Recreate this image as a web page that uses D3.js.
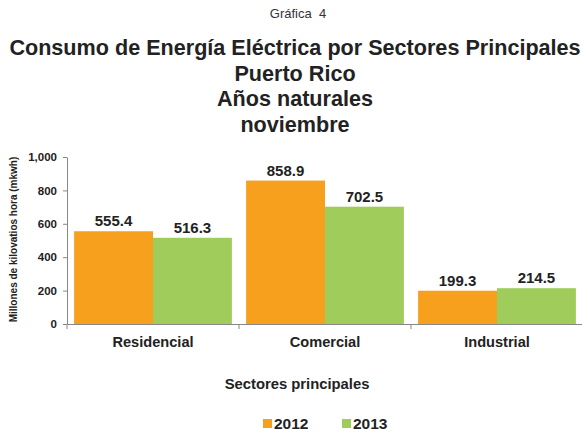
<!DOCTYPE html>
<html>
<head>
<meta charset="utf-8">
<script src="https://cdn.jsdelivr.net/npm/d3@7"></script>
<style>
  body { margin: 0; background: #fff; }
  svg { font-family: "Liberation Sans", Arial, sans-serif; }
</style>
</head>
<body>
<div id="chart"></div>
<script>
var categories = ["Residencial", "Comercial", "Industrial"];
var years = ["2012", "2013"];
var values2012 = [555.4, 858.9, 199.3];
var values2013 = [516.3, 702.5, 214.5];
var yTicks = [0, 200, 400, 600, 800, 1000];
var colors = ["#F6A01D", "#A0CC5C"];

var width = 582, height = 434;
var margin = {top: 157, right: -1, bottom: 110, left: 67};
var font = "Liberation Sans, Arial, sans-serif";

var svg = d3.select("#chart").append("svg")
  .attr("width", width)
  .attr("height", height);

// titles
svg.append("text")
  .attr("x", 298).attr("y", 18)
  .attr("text-anchor", "middle")
  .attr("font-size", 13).attr("fill", "#333")
  .style("white-space", "pre")
  .text("Gráfica  4");

var titleLines = ["Consumo de Energía Eléctrica por Sectores Principales", "Puerto Rico", "Años naturales", "noviembre"];
svg.append("g").selectAll("text")
  .data(titleLines)
  .enter().append("text")
  .attr("x", 295)
  .attr("y", function (d, i) { return 55 + i * 25.7; })
  .attr("text-anchor", "middle")
  .attr("font-size", 21.6).attr("font-weight", "bold").attr("fill", "#222")
  .text(function (d) { return d; });

var x0 = d3.scaleBand()
  .domain(categories)
  .range([margin.left, width - margin.right])
  .paddingInner(0)
  .paddingOuter(0);

var x1 = d3.scaleBand()
  .domain(years)
  .range([0, x0.bandwidth()])
  .paddingInner(0)
  .paddingOuter(0.09);

var y = d3.scaleLinear()
  .domain([0, 1000])
  .range([height - margin.bottom, margin.top]);

// bars
var data = categories.map(function (c, i) {
  return {cat: c, vals: [values2012[i], values2013[i]]};
});

var groups = svg.append("g").selectAll("g")
  .data(data)
  .enter().append("g")
  .attr("transform", function (d) { return "translate(" + x0(d.cat) + ",0)"; });

groups.selectAll("rect")
  .data(function (d) { return d.vals.map(function (v, j) { return {year: years[j], v: v, j: j}; }); })
  .enter().append("rect")
  .attr("x", function (d) { return x1(d.year); })
  .attr("width", x1.bandwidth())
  .attr("y", function (d) { return y(d.v); })
  .attr("height", function (d) { return y(0) - y(d.v); })
  .attr("fill", function (d) { return colors[d.j]; });

groups.selectAll("text")
  .data(function (d) { return d.vals.map(function (v, j) { return {year: years[j], v: v}; }); })
  .enter().append("text")
  .attr("x", function (d) { return x1(d.year) + x1.bandwidth() / 2; })
  .attr("y", function (d) { return y(d.v) - 5; })
  .attr("text-anchor", "middle")
  .attr("font-size", 15).attr("font-weight", "bold").attr("fill", "#222")
  .text(function (d) { return d3.format(".1f")(d.v); });

// y axis
var yAxis = svg.append("g")
  .attr("transform", "translate(" + margin.left + ",0)")
  .call(d3.axisLeft(y).tickValues(yTicks).tickFormat(d3.format(",")).tickSize(4).tickSizeOuter(0));
yAxis.select(".domain").attr("stroke", "#888");
yAxis.selectAll(".tick line").attr("stroke", "#888");
yAxis.selectAll(".tick text")
  .attr("font-size", 11.5).attr("font-weight", "bold").attr("fill", "#222")
  .attr("x", -10)
  .style("font-family", font);

// x axis
var xAxis = svg.append("g")
  .attr("transform", "translate(0," + y(0) + ")")
  .call(d3.axisBottom(x0).tickSize(0).tickSizeOuter(0));
xAxis.select(".domain").attr("stroke", "#888");
xAxis.selectAll(".tick text")
  .attr("font-size", 14.6).attr("font-weight", "bold").attr("fill", "#222")
  .attr("y", 0).attr("dy", 0)
  .attr("transform", "translate(0,23)")
  .style("font-family", font);

// category separators
var seps = categories.map(function (c) { return x0(c); }).concat([x0.range()[1]]);
svg.append("g").selectAll("line")
  .data(seps)
  .enter().append("line")
  .attr("x1", function (d) { return d; }).attr("x2", function (d) { return d; })
  .attr("y1", y(0)).attr("y2", y(0) + 5)
  .attr("stroke", "#888");

// axis titles
svg.append("text")
  .attr("transform", "translate(17," + ((y(0) + y(1000)) / 2 - 1) + ") rotate(-90)")
  .attr("text-anchor", "middle")
  .attr("font-size", 10).attr("font-weight", "bold").attr("fill", "#222")
  .text("Millones de kilovatios hora (mkwh)");

svg.append("text")
  .attr("x", 297).attr("y", 389)
  .attr("text-anchor", "middle")
  .attr("font-size", 14.8).attr("font-weight", "bold").attr("fill", "#222")
  .text("Sectores principales");

// legend
var legend = svg.append("g").selectAll("g")
  .data(years)
  .enter().append("g")
  .attr("transform", function (d, i) { return "translate(" + (263 + i * 79) + ",419)"; });

legend.append("rect")
  .attr("width", 9).attr("height", 9)
  .attr("y", 0)
  .attr("fill", function (d, i) { return colors[i]; });

legend.append("text")
  .attr("x", 11).attr("y", 10)
  .attr("font-size", 15.5).attr("font-weight", "bold").attr("fill", "#222")
  .text(function (d) { return d; });
</script>
</body>
</html>
